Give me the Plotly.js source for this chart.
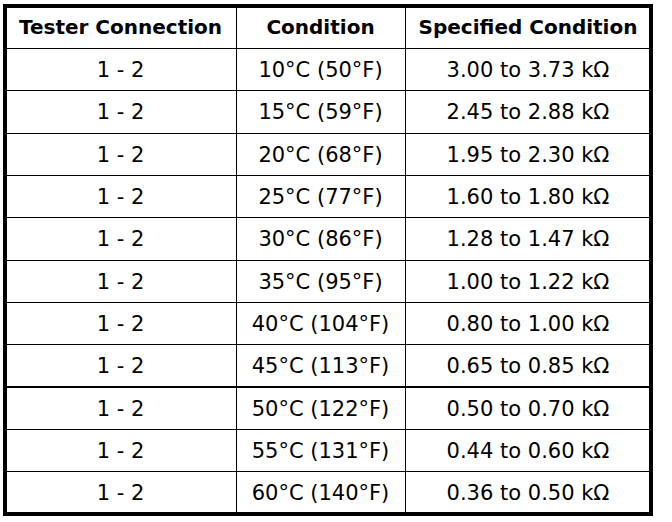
<!DOCTYPE html>
<html>
<head>
<meta charset="utf-8">
<script src="https://cdn.plot.ly/plotly-3.0.1.min.js"></script>
<style>html,body{margin:0;padding:0;background:#fff;}#chart{width:672px;height:522px;}</style>
</head>
<body>
<div id="chart"></div>
<script>
const headers = ["Tester Connection", "Condition", "Specified Condition"];
const connection = ["1 - 2","1 - 2","1 - 2","1 - 2","1 - 2","1 - 2","1 - 2","1 - 2","1 - 2","1 - 2","1 - 2"];
const condition = ["10°C (50°F)","15°C (59°F)","20°C (68°F)","25°C (77°F)","30°C (86°F)","35°C (95°F)","40°C (104°F)","45°C (113°F)","50°C (122°F)","55°C (131°F)","60°C (140°F)"];
const specified = ["3.00 to 3.73 kΩ","2.45 to 2.88 kΩ","1.95 to 2.30 kΩ","1.60 to 1.80 kΩ","1.28 to 1.47 kΩ","1.00 to 1.22 kΩ","0.80 to 1.00 kΩ","0.65 to 0.85 kΩ","0.50 to 0.70 kΩ","0.44 to 0.60 kΩ","0.36 to 0.50 kΩ"];

const W = 672, H = 522;
const boxLeft = 5, boxRight = 651, boxTop = 6, boxBottom = 514;
const rowH = (boxBottom - boxTop) / 12;
const textDrop = 5;

function makeTable(yTop, headerVals, cellVals, lineColor, fillColor) {
  return {
    type: "table",
    domain: {x: [boxLeft / W, boxRight / W], y: [0, 1 - yTop / H]},
    columnwidth: [231, 169, 246],
    header: {
      values: headerVals,
      align: "center",
      height: rowH,
      line: {color: lineColor, width: 1},
      fill: {color: fillColor},
      font: {family: "DejaVu Sans", size: 20, color: "#000", weight: "bold"}
    },
    cells: {
      values: cellVals,
      align: "center",
      height: rowH,
      line: {color: lineColor, width: 1},
      fill: {color: fillColor},
      font: {family: "DejaVu Sans", size: 21, color: "#000"}
    }
  };
}

const columns = [connection, condition, specified];
const blank = arr => arr.map(() => "");

// grid table (lines only, no text) + text table shifted down to centre the text vertically
const gridTable = makeTable(boxTop, blank(headers), columns.map(blank), "#000", "#fff");
const textTable = makeTable(boxTop + textDrop, headers, columns, "rgba(0,0,0,0)", "rgba(0,0,0,0)");

const layout = {
  width: W, height: H,
  margin: {l: 0, r: 0, t: 0, b: 0},
  paper_bgcolor: "#fff",
  showlegend: false,
  shapes: [{
    type: "rect", xref: "paper", yref: "paper",
    x0: boxLeft / W, x1: boxRight / W, y0: 1 - boxBottom / H, y1: 1 - boxTop / H,
    line: {color: "#000", width: 4}, fillcolor: "rgba(0,0,0,0)", layer: "above"
  }]
};

Plotly.newPlot("chart", [gridTable, textTable], layout, {displayModeBar: false, staticPlot: true});
</script>
</body>
</html>
